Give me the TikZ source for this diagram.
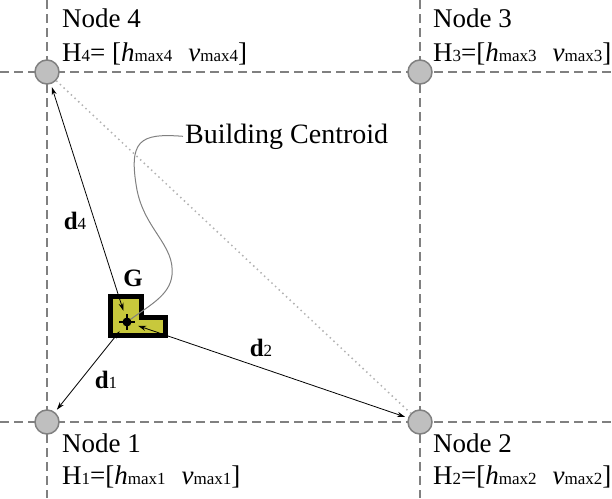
\documentclass[tikz,border=0pt]{standalone}
\usepackage{fontspec}
\setmainfont{Liberation Serif}
\usetikzlibrary{arrows.meta}
\definecolor{bldg}{RGB}{200,200,60}
\newcommand{\sm}[1]{{\fontsize{17}{17}\selectfont\mdseries #1}}

\begin{document}
\begin{tikzpicture}
		[x=1pt, y=-1pt,
		main/.style = {draw=gray, fill=lightgray, circle, line width=1.5pt, minimum size=24pt, inner sep=0pt},
		grid/.style = {gray, line width=1.3pt, dash pattern=on 9pt off 5pt},
		dim/.style = {line width=0.8pt, {Stealth[length=8pt,width=5pt]}-{Stealth[length=8pt,width=5pt]}, shorten <=7pt, shorten >=3pt},
		lbl/.style = {anchor=base west, inner sep=0pt, font=\fontsize{27}{30}\selectfont},
		dlbl/.style = {font=\bfseries\fontsize{25}{25}\selectfont}]
	\useasboundingbox (0,0) rectangle (612,498);
	% grid lines
	\draw[grid] (47,0) -- (47,498);
	\draw[grid] (420,0) -- (420,498);
	\draw[grid] (0,72) -- (612,72);
	\draw[grid] (0,422) -- (612,422);
	% grid nodes
	\node[main] (1) at (47,422) {};
	\node[main] (2) at (420,422) {};
	\node[main] (3) at (420,72) {};
	\node[main] (4) at (47,72) {};
	\draw[gray!60, line width=1.5pt, dash pattern=on 1.5pt off 3.5pt] (4) -- (2);
	% building
	\filldraw[fill=bldg, line width=5pt, line join=miter] (110.5,296.5) -- (141.5,296.5) -- (141.5,317.5)
		-- (165.5,317.5) -- (165.5,335.5) -- (110.5,335.5) -- cycle;
	\node[circle, fill, inner sep=0pt, minimum size=9pt] (G) at (127,322) {};
	\draw[line width=1.2pt] (127,314) -- (127,330) (119,322) -- (135,322);
	\node[dlbl] (g) at (133,278) {G};
	% distances
	\draw[dim] (G) -- (4);
	\draw[dim] (G) -- (1);
	\draw[dim] (G) -- (2);
	\node[dlbl] (d4) at (75,221) {d\sm{4}};
	\node[dlbl] (d1) at (106,380) {d\sm{1}};
	\node[dlbl] (d2) at (261,348) {d\sm{2}};
	% centroid label
	\node[lbl, font=\fontsize{28}{30}\selectfont] (bc) at (185,143) {Building Centroid};
	\draw[gray, line width=1pt] ([xshift=-2pt]bc.west) .. controls (140,133) and (128,140) .. (137,190)
		.. controls (145,230) and (175,245) .. (172,275) .. controls (170,295) and (150,305) .. (G);
	% node labels
	\node[lbl] (t4) at (62,27) {Node 4};
	\node[lbl] (h4) at (62,61) {H\sm{4}= [\textit{h}\sm{max4}\hspace{16pt}\textit{v}\sm{max4}]};
	\node[lbl] (t3) at (433,27) {Node 3};
	\node[lbl] (h3) at (433,61) {H\sm{3}=[\textit{h}\sm{max3}\hspace{16pt}\textit{v}\sm{max3}]};
	\node[lbl] (t1) at (62,452) {Node 1};
	\node[lbl] (h1) at (62,484) {H\sm{1}=[\textit{h}\sm{max1}\hspace{16pt}\textit{v}\sm{max1}]};
	\node[lbl] (t2) at (433,452) {Node 2};
	\node[lbl] (h2) at (433,484) {H\sm{2}=[\textit{h}\sm{max2}\hspace{16pt}\textit{v}\sm{max2}]};
\end{tikzpicture}
\end{document}
